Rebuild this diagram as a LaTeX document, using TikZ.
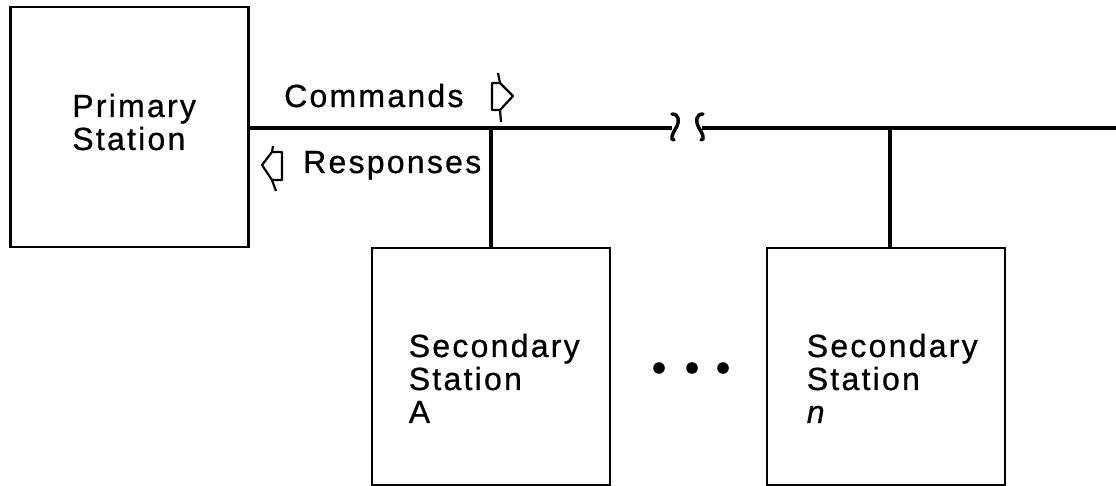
\documentclass[tikz,border=0pt]{standalone}
\usepackage{fontspec}
\setmainfont[LetterSpace=7,FakeBold=0.8]{Liberation Sans}
\usetikzlibrary{positioning}

\begin{document}
\begin{tikzpicture}[x=1pt,y=-1pt,
                    station/.style={draw,line width=2.8pt,minimum width=238pt,minimum height=237pt},
                    bus/.style={line width=3.4pt},
                    flow/.style={line width=2.2pt,line join=round},
                    lbl/.style={inner sep=0pt,align=left,font=\fontsize{32}{33}\selectfont}]
  \useasboundingbox (0,0) rectangle (1116,486);
  \node[station,minimum height=240pt] (primary) at (129.5,127) {};
  \node[station] (secA) at (491,366.5) {};
  \node[station] (secN) at (886,366.5) {};
  \node[lbl,anchor=north west] (primaryname) at ([xshift=63pt,yshift=-88pt]primary.north west) {Primary\\Station};
  \node[lbl,anchor=north west] (secAname) at ([xshift=38pt,yshift=-87pt]secA.north west) {Secondary\\Station\\A};
  \node[lbl,anchor=north west] (secNname) at ([xshift=41pt,yshift=-87pt]secN.north west) {Secondary\\Station\\\textit{n}};
  \node[lbl,anchor=base west] (cmd) at (284,107) {Commands};
  \node[lbl,anchor=base west] (resp) at (303,173) {Responses};
  \coordinate (brkL) at (672,128);
  \coordinate (brkR) at (702,128);
  \coordinate (busend) at (1116,128);
  % the line
  \draw[bus] (primary.east |- brkL) -- (brkL);
  \draw[bus] (brkR) -- (busend);
  \draw[bus] (secA.north |- brkL) -- (secA.north);
  \draw[bus] ([xshift=4pt]secN.north |- brkL) -- ([xshift=4pt]secN.north);
  % break marks
  \draw[bus,line cap=round] (672,114) .. controls (679,114) and (680,121) .. (676,128)
                            .. controls (672,134) and (670,140) .. (674,140);
  \draw[bus,line cap=round] (703,114) .. controls (696,114) and (695,121) .. (699,128)
                            .. controls (703,134) and (705,140) .. (701,140);
  % direction arrows
  \draw[flow] (492,83) -- (500,83) -- (513,96) -- (500,110) -- (492,110) -- cycle;
  \draw[flow] (500,83) -- (498,73) (500,110) -- (501,122);
  \draw[flow] (282,152) -- (272,152) -- (262,165) -- (272,180) -- (282,180) -- cycle;
  \draw[flow] (272,152) -- (273,146) (272,180) -- (276,191);
  % more stations
  \foreach \x in {659,692,723}
    \fill (\x,368) circle (5.8pt);
\end{tikzpicture}
\end{document}
